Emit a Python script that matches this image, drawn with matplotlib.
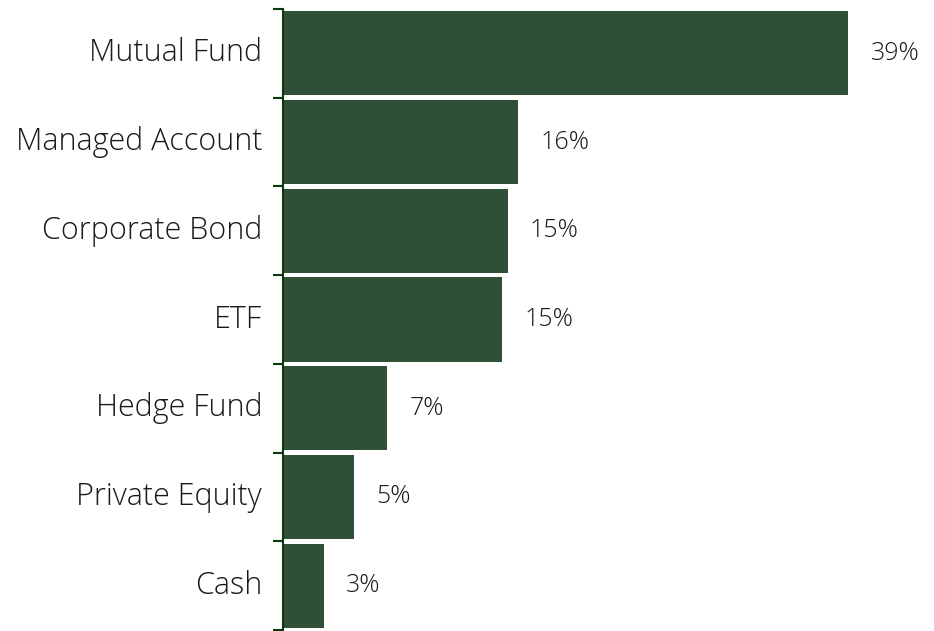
import numpy as np
import matplotlib.pyplot as plt

# categories and values (percent)
categories = ["Mutual Fund", "Managed Account", "Corporate Bond", "ETF",
              "Hedge Fund", "Private Equity", "Cash"]
values = [39.0, 16.2, 15.5, 15.1, 7.2, 4.9, 2.8]
labels = ["39%", "16%", "15%", "15%", "7%", "5%", "3%"]

bar_color = "#2f4f36"
axis_color = "#0b3a0b"
font = ["Open Sans", "DejaVu Sans"]
txt_color = "#1a1a1a"

fig = plt.figure(figsize=(9.34, 6.31), dpi=100)
ax = fig.add_axes([283 / 934, 1 / 631, 594 / 934, 621 / 631])

y = np.arange(len(categories))
ax.barh(y, values, height=0.95, color=bar_color)
ax.set_ylim(len(categories) - 0.5, -0.5)
ax.set_xlim(0, 41)

for yi, v, lab in zip(y, values, labels):
    ax.text(v + 1.55, yi, lab, va="center", ha="left", fontsize=18,
            family=font, weight="light", color=txt_color, clip_on=False)

# labels at bar centres, tick marks at bar boundaries
ax.set_yticks(y)
ax.set_yticklabels(categories, family=font, fontsize=22, weight="light",
                   color=txt_color, va="center")
ax.tick_params(axis="y", which="major", length=0, pad=15)
ax.set_yticks(np.arange(-0.5, len(categories), 1.0), minor=True)
ax.tick_params(axis="y", which="minor", length=7, width=1.5, color=axis_color)

ax.set_xticks([])
for s in ["top", "right", "bottom"]:
    ax.spines[s].set_visible(False)
ax.spines["left"].set_color(axis_color)
ax.spines["left"].set_linewidth(1.5)

fig.savefig("out.png", dpi=100)
